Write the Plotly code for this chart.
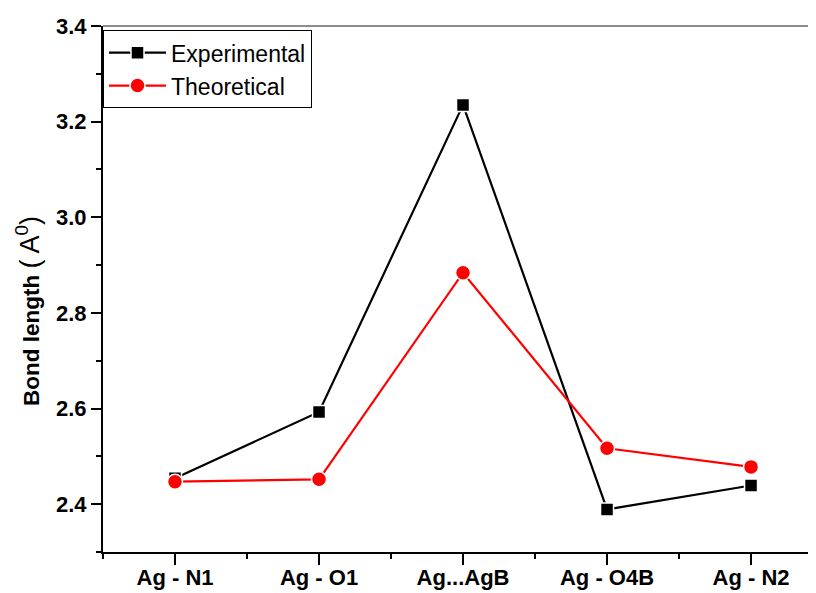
import plotly.graph_objects as go

categories = ["Ag - N1", "Ag - O1", "Ag...AgB", "Ag - O4B", "Ag - N2"]
experimental = [2.454, 2.593, 3.235, 2.389, 2.439]
theoretical = [2.447, 2.452, 2.884, 2.517, 2.478]
ytick_vals = [2.4, 2.6, 2.8, 3.0, 3.2, 3.4]

xs = list(range(len(categories)))
FONT = "Liberation Sans, Arial, sans-serif"

fig = go.Figure()
fig.add_trace(go.Scatter(
    x=xs, y=experimental, name="Experimental", mode="lines+markers",
    line=dict(color="black", width=2.2),
    marker=dict(symbol="square", size=13, color="black", line=dict(color="white", width=1.5)),
))
fig.add_trace(go.Scatter(
    x=xs, y=theoretical, name="Theoretical", mode="lines+markers",
    line=dict(color="#ff0000", width=2.2),
    marker=dict(symbol="circle", size=15, color="#ff0000", line=dict(color="white", width=1.5)),
))

# page body has an 8px margin, so the figure is sized to fill the rest of the window
fig.update_layout(
    width=808, height=585,
    margin=dict(l=95, r=0, t=18, b=41, autoexpand=False),
    paper_bgcolor="white", plot_bgcolor="white",
    font=dict(family=FONT, color="black"),
    showlegend=True,
    legend=dict(
        x=0.0, y=0.992, xanchor="left", yanchor="top",
        bordercolor="black", borderwidth=1, bgcolor="white",
        font=dict(size=23, family=FONT),
        tracegroupgap=0, itemwidth=57,
    ),
    xaxis=dict(
        range=[-0.5, 4.451], automargin=False,
        tickmode="array", tickvals=xs, ticktext=["<b>%s</b>" % c for c in categories],
        ticks="outside", ticklen=11, tickwidth=2, tickcolor="black",
        tickfont=dict(size=22, family=FONT), ticklabelstandoff=-6,
        showline=True, linecolor="black", linewidth=2,
        showgrid=False, zeroline=False,
        minor=dict(tickvals=[-0.5, 0.5, 1.5, 2.5, 3.5], ticks="outside", ticklen=5, tickwidth=2, tickcolor="black"),
    ),
    yaxis=dict(
        range=[2.3, 3.4], automargin=False,
        tickmode="array", tickvals=ytick_vals, ticktext=["<b>%.1f</b>" % v for v in ytick_vals],
        ticks="outside", ticklen=10, tickwidth=2, tickcolor="black",
        tickfont=dict(size=22, family=FONT),
        showline=True, linecolor="black", linewidth=2,
        showgrid=False, zeroline=False,
        minor=dict(tickvals=[2.3, 2.5, 2.7, 2.9, 3.1, 3.3], ticks="outside", ticklen=5, tickwidth=2, tickcolor="black"),
    ),
    annotations=[dict(
        text="<b>Bond length</b> <span style='font-size:27px'>( A<sup>0</sup>)</span>",
        font=dict(size=22.5, family=FONT), textangle=-90,
        xref="paper", yref="paper", x=-0.1052, y=0.458,
        xanchor="center", yanchor="middle", showarrow=False,
    )],
    shapes=[dict(type="line", xref="paper", yref="paper", x0=0, x1=1, y0=1, y1=1,
                 line=dict(color="#666666", width=1.5))],
)

fig.write_html("out.html")
